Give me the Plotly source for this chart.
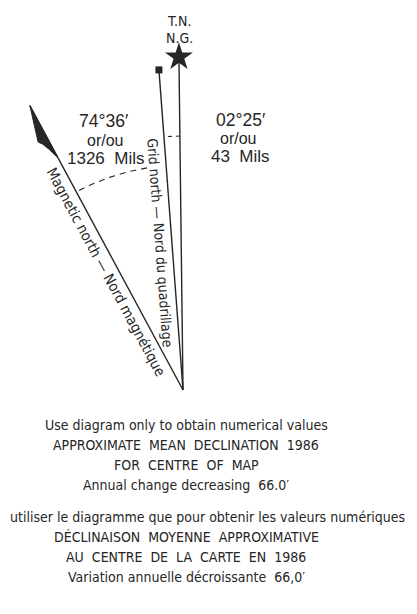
import numpy as np
import plotly.graph_objects as go

# ---- data ----
line_names = ["True north", "Grid north", "Magnetic north"]
drawn_angle_deg = [0.7, 4.3, 28.3]      # drawn angle west of the vertical (diagram not to scale)
line_length = [333, 321, 323]
grid_decl_text = ["02°25′", "or/ou", "43\u00a0\u00a0Mils"]
mag_decl_text = ["74°36′", "or/ou", "1326\u00a0\u00a0Mils"]
tn_labels = ["T.N.", "N.G."]
caption_en = ["Use diagram only to obtain numerical values",
              "APPROXIMATE\u00a0\u00a0MEAN\u00a0\u00a0DECLINATION\u00a0\u00a01986",
              "FOR\u00a0\u00a0CENTRE\u00a0\u00a0OF\u00a0\u00a0MAP",
              "Annual change decreasing\u00a0\u00a066.0′"]
caption_fr_first = "utiliser le diagramme que pour obtenir les valeurs numériques"
caption_fr = ["DÉCLINAISON\u00a0\u00a0MOYENNE\u00a0\u00a0APPROXIMATIVE",
              "AU\u00a0\u00a0CENTRE\u00a0\u00a0DE\u00a0\u00a0LA\u00a0\u00a0CARTE\u00a0\u00a0EN\u00a0\u00a01986",
              "Variation annuelle décroissante\u00a0\u00a066,0′"]

W, H = 417, 614
OFF = 8                      # page body margin in the browser
VX, VY = 183, 390
INK = "#262626"
NARROW = "DejaVu Sans Condensed, Liberation Sans Narrow, sans-serif"
REG = "Liberation Sans, Arial, Helvetica, sans-serif"


def pt(angle, r):
    a = np.radians(angle)
    return VX - r * np.sin(a), VY - r * np.cos(a)


fig = go.Figure()

# main lines
ends = {}
for name, ang, L in zip(line_names, drawn_angle_deg, line_length):
    ex, ey = pt(ang, L)
    ends[name] = (ex, ey)
    fig.add_trace(go.Scatter(x=[VX, ex], y=[VY, ey], mode="lines",
                             line=dict(color=INK, width=1.4), hoverinfo="skip"))

# star for true north, square for grid north
sx, sy = ends["True north"]
fig.add_trace(go.Scatter(x=[sx], y=[sy], mode="markers",
                         marker=dict(symbol="star", size=21, color=INK), hoverinfo="skip"))
gx, gy = ends["Grid north"]
fig.add_trace(go.Scatter(x=[gx], y=[gy], mode="markers",
                         marker=dict(symbol="square", size=7, color=INK), hoverinfo="skip"))

# half arrowhead on magnetic north
ma = drawn_angle_deg[2]
u = np.array([np.sin(np.radians(ma)), np.cos(np.radians(ma))])   # from tip toward vertex (screen)
p = np.array([-u[1], u[0]])                                      # perpendicular, left side
tip = np.array(ends["Magnetic north"])
shape_local = [(0, 0), (36, 10), (40, 7), (47, 4), (58, 0.5), (58, 0), (0, 0)]
poly = [tip + a * u + b * p for a, b in shape_local]
fig.add_trace(go.Scatter(x=[q[0] for q in poly], y=[q[1] for q in poly], mode="lines",
                         fill="toself", fillcolor=INK, line=dict(color=INK, width=1),
                         hoverinfo="skip"))

# dashed arcs
a1 = np.linspace(drawn_angle_deg[0], drawn_angle_deg[1], 10)
xs, ys = pt(a1, 254)
fig.add_trace(go.Scatter(x=xs, y=ys, mode="lines",
                         line=dict(color=INK, width=1.1, dash="4px,4px"), hoverinfo="skip"))
a2 = np.linspace(9.2, drawn_angle_deg[2], 30)
xs, ys = pt(a2, 225)
fig.add_trace(go.Scatter(x=xs, y=ys, mode="lines",
                         line=dict(color=INK, width=1.1, dash="6px,5px"), hoverinfo="skip"))

ann = []


def add(text, x, y, size, family, angle=0, xanchor="center"):
    ann.append(dict(text=text, x=x, y=y, xref="x", yref="y", showarrow=False,
                    font=dict(size=size, family=family, color=INK),
                    textangle=angle, xanchor=xanchor, yanchor="middle"))


add(tn_labels[0], 179, 21, 14, NARROW)
add(tn_labels[1], 179, 38, 14, NARROW)

for t, x, y, s in zip(mag_decl_text, [103, 105, 105.5], [121, 140, 158], [17.5, 16, 17]):
    add(t, x, y, s, REG)
for t, x, y, s in zip(grid_decl_text, [240, 238, 240], [120, 138, 156], [17.5, 16, 17]):
    add(t, x, y, s, REG)

# rotated line labels
add("Grid north — Nord du quadrillage", 160, 243, 14, NARROW, angle=90 - drawn_angle_deg[1])
add("Magnetic north — Nord magnétique", 106, 272, 14.5, NARROW, angle=90 - drawn_angle_deg[2])

# captions
for t, y in zip(caption_en, [425, 445, 465, 485]):
    add(t, 186, y, 14, NARROW)
ann.append(dict(text=caption_fr_first, x=0, y=517, xref="paper", yref="y", showarrow=False,
                font=dict(size=14, family=NARROW, color=INK), xanchor="left", yanchor="middle"))
for t, y in zip(caption_fr, [537, 557, 577]):
    add(t, 186, y, 14, NARROW)

fig.update_layout(
    width=W, height=H, margin=dict(l=0, r=0, t=0, b=0),
    paper_bgcolor="white", plot_bgcolor="white", showlegend=False,
    xaxis=dict(range=[OFF, W + OFF], visible=False, fixedrange=True),
    yaxis=dict(range=[H + OFF, OFF], visible=False, fixedrange=True),
    annotations=ann,
)

fig.write_html("out.html")
